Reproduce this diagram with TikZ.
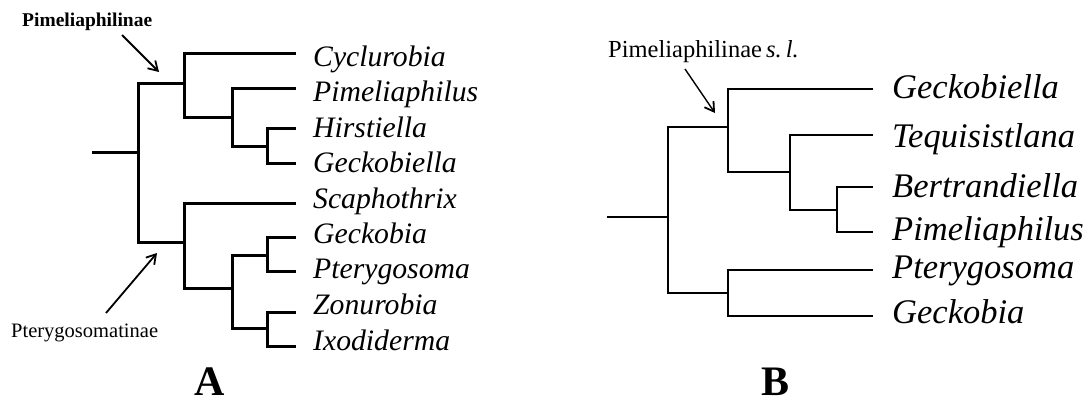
\documentclass[tikz,border=0pt]{standalone}
\usepackage{fontspec}
\setmainfont{Liberation Serif}
\usetikzlibrary{arrows.meta}
\begin{document}
\begin{tikzpicture}[x=1pt,y=-1pt,
  branch/.style={line width=3pt,line join=miter},
  branchB/.style={line width=2.6pt,line join=miter},
  pointer/.style={line width=1.8pt,-{Straight Barb[length=9pt,width=11pt,line width=1.8pt]}},
  taxA/.style={anchor=base west,inner sep=0pt,font=\fontsize{29.7}{30}\selectfont\itshape},
  taxB/.style={anchor=base west,inner sep=0pt,font=\fontsize{34.5}{35}\selectfont\itshape},
  panel/.style={anchor=base,inner sep=0pt,font=\fontsize{42}{42}\selectfont\bfseries}]
\useasboundingbox (0,0) rectangle (1088,400);

% ---------- tree A ----------
\coordinate (rA) at (92,152);
\coordinate (nA) at (138,152);
\coordinate (pim) at (184,83);
\coordinate (a2) at (232,117);
\coordinate (a3) at (267,146);
\coordinate (pte) at (184,242);
\coordinate (a5) at (232,288);
\coordinate (a6) at (267,255);
\coordinate (a7) at (267,328);
\coordinate (tCyc) at (296,53);
\coordinate (tPim) at (296,88);
\coordinate (tHir) at (296,128);
\coordinate (tGkl) at (296,163);
\coordinate (tSca) at (296,203);
\coordinate (tGkb) at (296,237);
\coordinate (tPte) at (296,271);
\coordinate (tZon) at (296,312);
\coordinate (tIxo) at (296,346);

\draw[branch] (rA) -- (nA);
\draw[branch] (nA) |- (pim);
\draw[branch] (nA) |- (pte);
\draw[branch] (pim) |- (tCyc);
\draw[branch] (pim) |- (a2);
\draw[branch] (a2) |- (tPim);
\draw[branch] (a2) |- (a3);
\draw[branch] (a3) |- (tHir);
\draw[branch] (a3) |- (tGkl);
\draw[branch] (pte) |- (tSca);
\draw[branch] (pte) |- (a5);
\draw[branch] (a5) |- (a6);
\draw[branch] (a5) |- (a7);
\draw[branch] (a6) |- (tGkb);
\draw[branch] (a6) |- (tPte);
\draw[branch] (a7) |- (tZon);
\draw[branch] (a7) |- (tIxo);

\node[taxA] (lCyc) at (313,66) {Cyclurobia};
\node[taxA] (lPim) at (313,101) {Pimeliaphilus};
\node[taxA] (lHir) at (313,137) {Hirstiella};
\node[taxA] (lGkl) at (313,172) {Geckobiella};
\node[taxA] (lSca) at (313,208) {Scaphothrix};
\node[taxA] (lGkb) at (313,243) {Geckobia};
\node[taxA] (lPte) at (313,278) {Pterygosoma};
\node[taxA] (lZon) at (313,314) {Zonurobia};
\node[taxA] (lIxo) at (313,350) {Ixodiderma};

\node[anchor=base west,inner sep=0pt,font=\fontsize{19.5}{20}\selectfont\bfseries] (cladeP) at (22,26) {Pimeliaphilinae};
\node[anchor=base west,inner sep=0pt,font=\fontsize{20.5}{21}\selectfont] (cladeT) at (11,337) {Pterygosomatinae};
\coordinate (p1s) at (122,35);
\coordinate (p1e) at (159,72);
\coordinate (p2s) at (106,313);
\coordinate (p2e) at (157,253);
\draw[pointer] (p1s) -- (p1e);
\draw[pointer] (p2s) -- (p2e);

\node[panel] (panA) at (210,395) {A};

% ---------- tree B ----------
\coordinate (rB) at (607,217);
\coordinate (nB) at (668,217);
\coordinate (pimB) at (728,127);
\coordinate (b2) at (790,172);
\coordinate (b3) at (837,210);
\coordinate (pteB) at (728,293);
\coordinate (uGkl) at (873,89);
\coordinate (uTeq) at (873,135);
\coordinate (uBer) at (873,187);
\coordinate (uPim) at (873,232);
\coordinate (uPte) at (873,270);
\coordinate (uGkb) at (873,316);

\draw[branchB] (rB) -- (nB);
\draw[branchB] (nB) |- (pimB);
\draw[branchB] (nB) |- (pteB);
\draw[branchB] (pimB) |- (uGkl);
\draw[branchB] (pimB) |- (b2);
\draw[branchB] (b2) |- (uTeq);
\draw[branchB] (b2) |- (b3);
\draw[branchB] (b3) |- (uBer);
\draw[branchB] (b3) |- (uPim);
\draw[branchB] (pteB) |- (uPte);
\draw[branchB] (pteB) |- (uGkb);

\node[taxB] (mGkl) at (892,98) {Geckobiella};
\node[taxB] (mTeq) at (892,147) {Tequisistlana};
\node[taxB] (mBer) at (892,197) {Bertrandiella};
\node[taxB] (mPim) at (892,240) {Pimeliaphilus};
\node[taxB] (mPte) at (892,278) {Pterygosoma};
\node[taxB] (mGkb) at (892,323) {Geckobia};

\node[anchor=base west,inner sep=0pt,font=\fontsize{24.5}{25}\selectfont] (cladeB) at (608,57) {Pimeliaphilinae\,\textit{s.\,l.}};
\coordinate (p3s) at (685,69);
\coordinate (p3e) at (715,113);
\draw[pointer,line width=1.4pt] (p3s) -- (p3e);

\node[panel] (panB) at (776,395) {B};
\end{tikzpicture}
\end{document}
